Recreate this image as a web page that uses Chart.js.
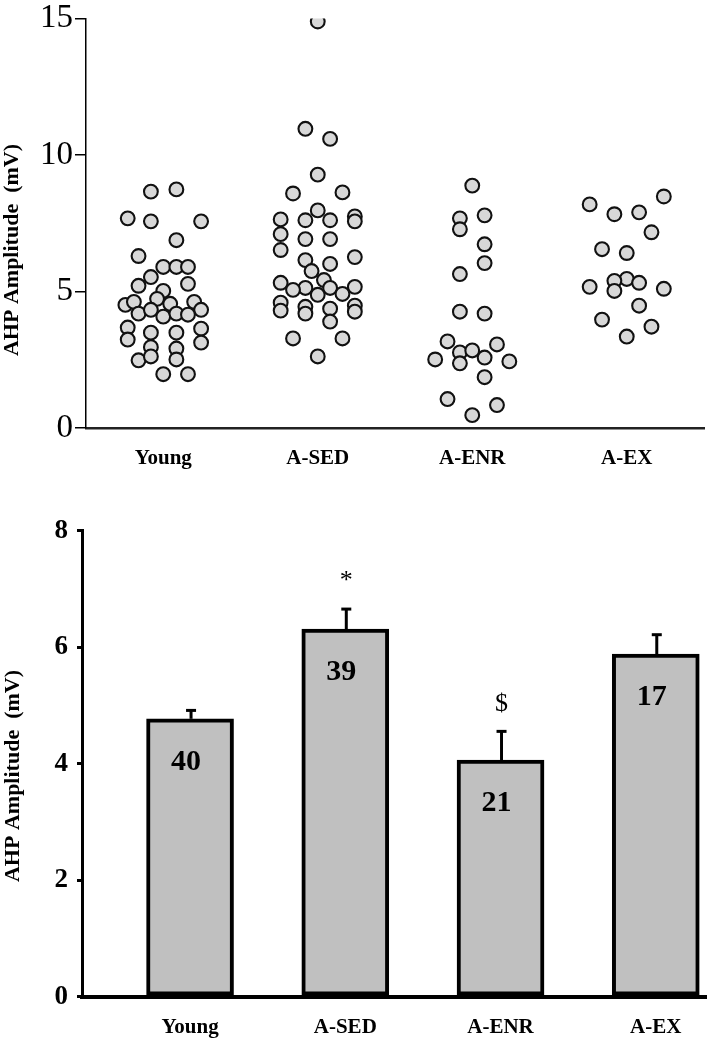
<!DOCTYPE html>
<html><head><meta charset="utf-8">
<script src="https://cdn.jsdelivr.net/npm/chart.js@4.4.1/dist/chart.umd.min.js"></script>
<style>
html,body{margin:0;padding:0;background:#fff;}
#wrap{position:relative;width:707px;height:1050px;overflow:hidden;background:#fff;}
#c1{position:absolute;left:0;top:0;}
#c2{position:absolute;left:0;top:500px;}
</style></head><body>
<div id="wrap"><canvas id="c1" width="707" height="500"></canvas><canvas id="c2" width="707" height="550"></canvas></div>
<script>
const groups = ['Young', 'A-SED', 'A-ENR', 'A-EX'];
const yTitle = 'AHP Amplitude  (mV)';

// Scatter panel: individual cell values (mV) and horizontal jitter (category units)
const youngValues = [8.66, 8.74, 7.68, 7.57, 7.57, 6.88, 6.30, 5.90, 5.90, 5.90, 5.53, 5.21, 5.28, 5.02, 4.51, 4.62, 4.73, 4.55, 4.62, 4.33, 4.19, 4.33, 4.08, 4.19, 4.15, 3.68, 3.49, 3.49, 3.64, 3.24, 2.96, 2.91, 3.13, 2.48, 2.62, 2.51, 1.97, 1.97];
const youngJitter = [-0.08, 0.085, -0.23, -0.08, 0.245, 0.085, -0.16, 0, 0.085, 0.16, -0.08, -0.16, 0.16, 0, -0.245, -0.19, -0.04, 0.045, 0.2, 0.245, -0.16, -0.08, 0, 0.085, 0.16, -0.23, -0.08, 0.085, 0.245, -0.23, -0.08, 0.085, 0.245, -0.16, -0.08, 0.085, 0, 0.16];

const sedValues = [14.89, 10.96, 10.59, 9.28, 8.59, 8.63, 7.97, 7.64, 7.61, 7.61, 7.75, 7.57, 7.10, 6.92, 6.92, 6.52, 6.26, 6.15, 6.01, 5.75, 5.42, 5.32, 5.13, 5.06, 5.13, 5.17, 4.88, 4.91, 4.59, 4.30, 4.44, 4.19, 4.37, 4.48, 4.26, 3.90, 3.28, 3.28, 2.62];
const sedJitter = [0, -0.08, 0.08, 0, -0.16, 0.16, 0, -0.24, -0.08, 0.08, 0.24, 0.24, -0.24, -0.08, 0.08, -0.24, 0.24, -0.08, 0.08, -0.04, 0.04, -0.24, -0.08, -0.16, 0.08, 0.24, 0, 0.16, -0.24, -0.24, -0.08, -0.08, 0.08, 0.24, 0.24, 0.08, -0.16, 0.16, 0];

const enrValues = [8.88, 7.68, 7.28, 7.79, 6.73, 6.04, 5.64, 4.26, 4.19, 3.17, 3.06, 2.77, 2.84, 2.51, 2.58, 2.37, 2.44, 1.86, 1.06, 0.84, 0.47];
const enrJitter = [0, -0.08, -0.08, 0.08, 0.08, 0.08, -0.08, -0.08, 0.08, -0.16, 0.16, -0.08, 0, -0.24, 0.08, -0.08, 0.24, 0.08, -0.16, 0.16, 0];

const exValues = [8.48, 8.19, 7.83, 7.90, 7.17, 6.55, 6.41, 5.46, 5.39, 5.02, 5.32, 5.17, 5.10, 4.48, 3.97, 3.71, 3.35];
const exJitter = [0.24, -0.24, -0.08, 0.08, 0.16, -0.16, 0, 0, -0.08, -0.08, 0.08, -0.24, 0.24, 0.08, -0.16, 0.16, 0];

const scatterTicks = [0, 5, 10, 15];

// Bar panel: mean, SEM, n and significance marks
const meanValues = [4.77, 6.31, 4.06, 5.88];
const semValues = [0.17, 0.37, 0.52, 0.36];
const nLabels = ['40', '39', '21', '17'];
const sigMarks = ['', '*', '$', ''];
const barTicks = [0, 2, 4, 6, 8];

const SERIF = '"Liberation Serif", "Times New Roman", serif';

const yTitlePlugin = {
  id: 'yTitle',
  afterDraw(chart, args, opts) {
    const ctx = chart.ctx;
    ctx.save();
    ctx.translate(opts.x, opts.y);
    ctx.rotate(-Math.PI / 2);
    ctx.font = 'bold 22px ' + SERIF;
    ctx.fillStyle = '#000';
    ctx.textAlign = 'center';
    ctx.textBaseline = 'middle';
    ctx.fillText(opts.text, 0, 0);
    ctx.restore();
  }
};

const valueSets = [youngValues, sedValues, enrValues, exValues];
const jitterSets = [youngJitter, sedJitter, enrJitter, exJitter];

new Chart(document.getElementById('c1'), {
  type: 'scatter',
  data: {
    datasets: groups.map((g, gi) => ({
      label: g,
      data: valueSets[gi].map((v, k) => ({ x: gi + jitterSets[gi][k], y: v })),
      pointRadius: 6.9,
      pointBackgroundColor: '#d8d8d8',
      pointBorderColor: '#111',
      pointBorderWidth: 2.1,
      showLine: false
    }))
  },
  options: {
    responsive: false,
    animation: false,
    layout: { autoPadding: false, padding: { top: 16, right: 3, left: 0, bottom: 0 } },
    plugins: { legend: { display: false }, tooltip: { enabled: false },
      yTitle: { text: yTitle, x: 12, y: 250 } },
    scales: {
      x: {
        type: 'linear', min: -0.5, max: 3.5,
        afterBuildTicks: s => { s.ticks = groups.map((g, i) => ({ value: i })); },
        afterFit: s => { s.height = 72; },
        ticks: { callback: v => groups[v], color: '#000', font: { family: SERIF, size: 21, weight: 'bold' }, padding: 18, maxRotation: 0 },
        grid: { display: false, drawTicks: false },
        border: { display: true, color: '#222', width: 2.5 }
      },
      y: {
        type: 'linear', min: 0, max: 15,
        afterBuildTicks: s => { s.ticks = scatterTicks.map(v => ({ value: v })); },
        afterFit: s => { s.width = 86; },
        ticks: { color: '#000', font: { family: SERIF, size: 33, lineHeight: 1 }, padding: 2 },
        grid: { display: true, drawOnChartArea: false, drawTicks: true, tickLength: 11, color: '#000', lineWidth: 1.5 },
        border: { display: true, color: '#000', width: 1.5 }
      }
    }
  },
  plugins: [yTitlePlugin]
});

const barExtrasPlugin = {
  id: 'barExtras',
  afterDatasetsDraw(chart) {
    const ctx = chart.ctx;
    const ys = chart.scales.y;
    const meta = chart.getDatasetMeta(0);
    ctx.save();
    meta.data.forEach((bar, i) => {
      const x = bar.x;
      const yBar = ys.getPixelForValue(meanValues[i]);
      const yErr = ys.getPixelForValue(meanValues[i] + semValues[i]);
      ctx.strokeStyle = '#000';
      ctx.lineWidth = 3;
      ctx.beginPath(); ctx.moveTo(x + 1, yBar); ctx.lineTo(x + 1, yErr + 1.5); ctx.stroke();
      ctx.beginPath(); ctx.moveTo(x - 4, yErr + 1.5); ctx.lineTo(x + 6, yErr + 1.5); ctx.stroke();
      ctx.fillStyle = '#000';
      ctx.textAlign = 'center';
      ctx.textBaseline = 'middle';
      ctx.font = 'bold 30px ' + SERIF;
      ctx.fillText(nLabels[i], x - 4, yBar + 43);
      if (sigMarks[i]) {
        ctx.font = '26px ' + SERIF;
        ctx.fillText(sigMarks[i], x + 1, yErr - 26);
      }
    });
    ctx.restore();
  }
};

new Chart(document.getElementById('c2'), {
  type: 'bar',
  data: {
    datasets: [{
      data: meanValues.map((v, i) => ({ x: i, y: v })),
      backgroundColor: '#c0c0c0',
      borderColor: '#000',
      borderWidth: 4,
      borderSkipped: false,
      barThickness: 87
    }]
  },
  options: {
    responsive: false,
    animation: false,
    layout: { autoPadding: false, padding: { top: 30.7, right: 0, left: 0, bottom: 0 } },
    plugins: { legend: { display: false }, tooltip: { enabled: false },
      yTitle: { text: yTitle, x: 13, y: 276 } },
    scales: {
      x: {
        type: 'linear', min: -0.696, max: 3.33, offset: false,
        afterBuildTicks: s => { s.ticks = groups.map((g, i) => ({ value: i })); },
        afterFit: s => { s.height = 53.4; },
        ticks: { callback: v => groups[v], color: '#000', font: { family: SERIF, size: 21, weight: 'bold' }, padding: 18, maxRotation: 0 },
        grid: { display: false, drawTicks: false },
        border: { display: true, color: '#000', width: 4 }
      },
      y: {
        type: 'linear', min: 0, max: 8,
        afterBuildTicks: s => { s.ticks = barTicks.map(v => ({ value: v })); },
        afterFit: s => { s.width = 82; },
        ticks: { color: '#000', font: { family: SERIF, size: 27, weight: 'bold', lineHeight: 1 }, padding: 9 },
        grid: { display: true, drawOnChartArea: false, drawTicks: true, tickLength: 5, color: '#000', lineWidth: 3 },
        border: { display: true, color: '#000', width: 3 }
      }
    }
  },
  plugins: [yTitlePlugin, barExtrasPlugin]
});
</script>
</body></html>
